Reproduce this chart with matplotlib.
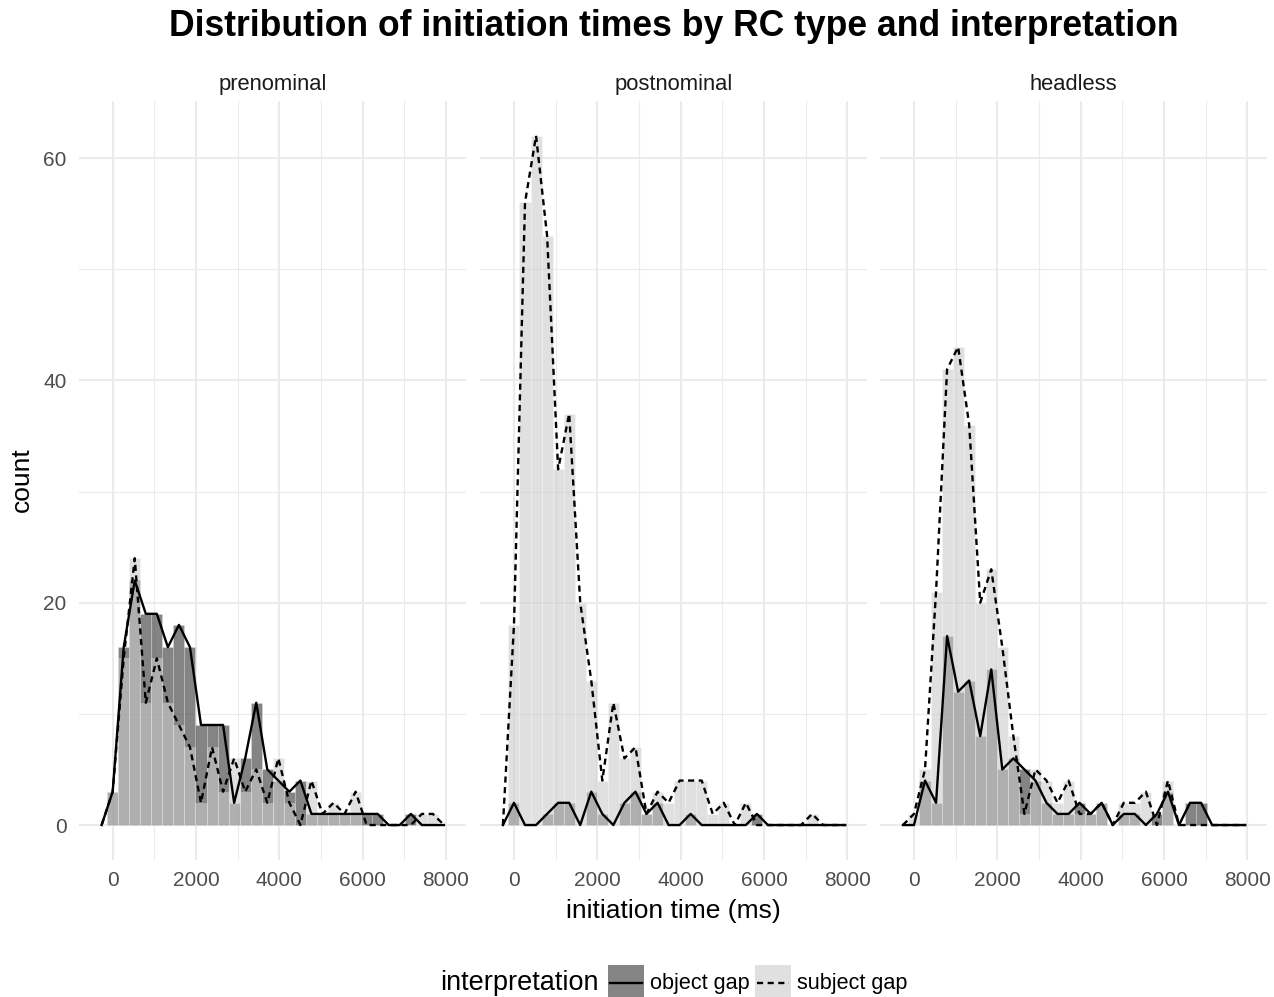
import numpy as np
import matplotlib
matplotlib.use("Agg")
import matplotlib.pyplot as plt
from matplotlib.patches import Rectangle
from matplotlib.lines import Line2D

plt.rcParams['font.family'] = ['Liberation Sans', 'DejaVu Sans']

# histogram bins (ms), 30 bins centred on multiples of the bin width
binwidth = 265
bin_centers = np.arange(30) * binwidth

panels = ['prenominal', 'postnominal', 'headless']
groups = ['object gap', 'subject gap']

# counts per bin
prenominal_object = [3, 16, 22, 19, 19, 16, 18, 16, 9, 9, 9, 2, 6, 11, 5,
                     4, 3, 4, 1, 1, 1, 1, 1, 1, 1, 0, 0, 1, 0, 0]
prenominal_subject = [3, 15, 24, 11, 15, 11, 9, 7, 2, 7, 3, 6, 3, 5, 2,
                      6, 2, 0, 4, 1, 2, 1, 3, 0, 0, 0, 0, 0, 1, 1]
postnominal_object = [2, 0, 0, 1, 2, 2, 0, 3, 1, 0, 2, 3, 1, 2, 0,
                      0, 1, 0, 0, 0, 0, 0, 1, 0, 0, 0, 0, 0, 0, 0]
postnominal_subject = [18, 56, 62, 53, 32, 37, 20, 13, 4, 11, 6, 7, 1, 3, 2,
                       4, 4, 4, 1, 2, 0, 2, 0, 0, 0, 0, 0, 1, 0, 0]
headless_object = [0, 4, 2, 17, 12, 13, 8, 14, 5, 6, 5, 4, 2, 1, 1,
                   2, 1, 2, 0, 1, 1, 0, 1, 3, 0, 2, 2, 0, 0, 0]
headless_subject = [1, 5, 21, 41, 43, 36, 20, 23, 16, 8, 1, 5, 4, 2, 4,
                    1, 1, 2, 0, 2, 2, 3, 0, 4, 0, 0, 0, 0, 0, 0]

counts = {
    'prenominal': (prenominal_object, prenominal_subject),
    'postnominal': (postnominal_object, postnominal_subject),
    'headless': (headless_object, headless_subject),
}

fills = [(0.2, 0.2, 0.2, 0.6), (0.8, 0.8, 0.8, 0.6)]
styles = ['-', '--']
grid_col = '#EBEBEB'
lw = 1.7
dash = (2.6, 1.9)

W, H = 1274, 997
fig = plt.figure(figsize=(W / 100, H / 100), dpi=100)

def px_axes(x0, x1, y0, y1, **kw):
    return fig.add_axes([x0 / W, 1 - y1 / H, (x1 - x0) / W, (y1 - y0) / H], **kw)

panel_left = [79, 480.3, 880.3]
for k, name in enumerate(panels):
    ax = px_axes(panel_left[k], panel_left[k] + 387, 101, 859.5)
    for g in range(2):
        c = np.array(counts[name][g])
        m = c > 0
        ax.bar(bin_centers[m], c[m], width=binwidth, color=fills[g],
               edgecolor=(1, 1, 1, 0.25), linewidth=0.6, zorder=2)
    for g in range(2):
        c = np.array(counts[name][g])
        xs = np.r_[-binwidth, bin_centers, 30 * binwidth]
        ys = np.r_[0, c, 0]
        ln, = ax.plot(xs, ys, color='black', lw=lw, ls=styles[g], zorder=3)
        if g == 1:
            ln.set_dashes(dash)
    ax.set_xlim(-808, 8479)
    ax.set_ylim(-3.1, 65.13)
    ax.set_xticks(np.arange(0, 8001, 2000))
    ax.set_xticks(np.arange(1000, 8001, 2000), minor=True)
    ax.set_yticks([0, 20, 40, 60])
    ax.set_yticks([10, 30, 50], minor=True)
    ax.grid(which='major', color=grid_col, lw=1.5, zorder=0)
    ax.grid(which='minor', color=grid_col, lw=0.8, zorder=0)
    ax.set_axisbelow(True)
    ax.tick_params(which='both', length=0, labelsize=15, labelcolor='#4D4D4D')
    ax.tick_params(axis='x', pad=8)
    ax.tick_params(axis='y', pad=9)
    if k > 0:
        ax.tick_params(labelleft=False)
    for s in ax.spines.values():
        s.set_visible(False)
    ax.set_title(name, fontsize=15.8, color='#1A1A1A', pad=8)

fig.text(674 / W, 1 - 27 / H, 'Distribution of initiation times by RC type and interpretation',
         ha='center', va='center', fontsize=25.6, fontweight='bold')
fig.text(673 / W, 1 - 911 / H, 'initiation time (ms)', ha='center', va='center', fontsize=19)
fig.text(22 / W, 1 - 480 / H, 'count', ha='center', va='center', rotation=90, fontsize=19)

# legend drawn in pixel coordinates at the bottom
lax = fig.add_axes([0, 0, 1, 1], zorder=-1)
lax.set_xlim(0, W)
lax.set_ylim(H, 0)
lax.axis('off')
lax.text(440, 983, 'interpretation', ha='left', va='center', fontsize=19.5)
key_x = [608, 755]
text_x = [650, 797]
for g in range(2):
    lax.add_patch(Rectangle((key_x[g], 965), 36, 36, facecolor=fills[g], edgecolor='none'))
    ln = Line2D([key_x[g] + 2, key_x[g] + 34], [983, 983], color='black', lw=lw, ls=styles[g])
    if g == 1:
        ln.set_dashes(dash)
    lax.add_line(ln)
    lax.text(text_x[g], 983, groups[g], ha='left', va='center', fontsize=15.6)

fig.savefig('out.png', dpi=100)
